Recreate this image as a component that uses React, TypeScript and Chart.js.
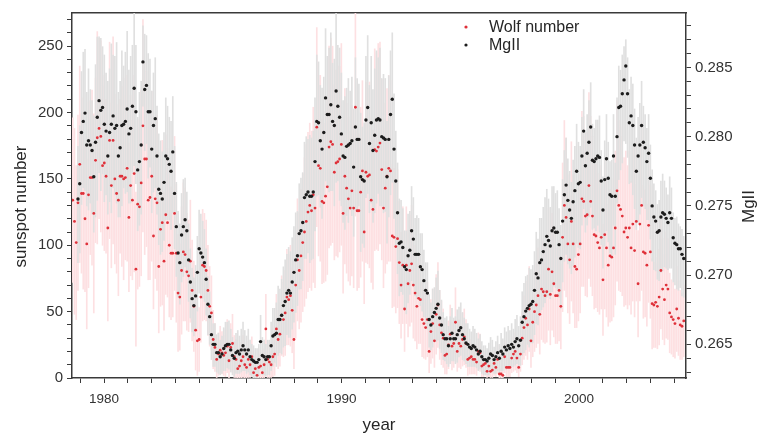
import React, { useEffect, useRef } from 'react';
import { Chart, registerables } from 'chart.js';

Chart.register(...registerables);

// sampling grid: one value per 27-day solar rotation
const START_YEAR = 1978.68;
const ROTATION_YEARS = 27 / 365.25;

const X_MIN = 1978.65;
const X_MAX = 2004.5;
const LEFT_MAX = 275;
const RIGHT_MIN = 0.26257;
const RIGHT_MAX = 0.28893;

const xLabelEvery = 10;
const leftLabelEvery = 50;
const rightLabelEveryMilli = 5;

const seriesLabels = ['Wolf number', 'MgII'];

// Wolf (sunspot) number per rotation, rows = years 1978 ... 2004
const wolf: number[] = [
  134, 118, 102, 132, 161,
  139, 139, 120, 101, 138, 151, 151, 124, 164, 181, 188, 182, 160,
  162, 152, 113, 179, 145, 179, 150, 139, 134, 152, 152, 150, 151, 158,
  121, 145, 134, 154, 82, 131, 129, 147, 190, 165, 165, 134, 136,
  152, 107, 135, 132, 84, 112, 117, 88, 123, 117, 100, 94, 94, 124,
  94, 64, 61, 81, 95, 93, 80, 77, 88, 66, 54, 36, 28,
  29, 61, 85, 84, 81, 66, 54, 49, 29, 23, 14, 18, 21, 19,
  17, 19, 24, 13, 23, 26, 16, 14, 7, 9, 13, 16, 10, 8,
  14, 10, 16, 4, 7, 2, 8, 9, 4, 10, 37, 14, 12,
  10, 16, 18, 37, 29, 33, 47, 44, 49, 61, 59, 62, 51, 29,
  70, 89, 81, 92, 102, 110, 118, 125, 130, 126, 138, 128, 189,
  160, 158, 133, 132, 137, 144, 174, 178, 176, 155, 162, 163, 165, 176,
  124, 152, 143, 135, 128, 141, 128, 204, 126, 126, 140, 156, 110,
  155, 152, 153, 134, 127, 172, 171, 174, 177, 157, 128, 143, 152, 158,
  156, 107, 106, 99, 105, 87, 70, 85, 52, 85, 71, 81, 86,
  70, 64, 54, 60, 59, 44, 41, 38, 44, 20, 35, 41, 28, 48,
  55, 40, 34, 30, 17, 18, 25, 33, 24, 26, 42, 20, 26,
  24, 29, 31, 26, 14, 15, 16, 14, 14, 12, 20, 19, 9, 10,
  11, 5, 9, 5, 6, 11, 8, 14, 3, 3, 2, 16, 8,
  8, 8, 15, 18, 20, 15, 8, 18, 30, 38, 45, 40, 52, 28,
  42, 50, 55, 62, 48, 67, 65, 62, 65, 82, 63, 80, 71,
  62, 62, 66, 54, 106, 130, 121, 101, 89, 118, 101, 84, 82, 93,
  101, 135, 133, 122, 123, 145, 133, 122, 108, 107, 102, 98, 106,
  74, 108, 98, 85, 92, 91, 98, 113, 141, 130, 127, 122, 110, 113,
  106, 113, 98, 116, 96, 118, 71, 116, 130, 95, 94, 85, 115, 95,
  56, 55, 57, 54, 61, 81, 67, 59, 70, 67, 49, 46, 44,
  41, 52, 45, 40, 39, 43,
];

// spread of the Wolf number within each rotation
const wolfErr: number[] = [
  62, 70, 58, 66, 74,
  60, 72, 55, 64, 70, 58, 66, 75, 62, 80, 68, 72, 60,
  66, 58, 70, 74, 62, 78, 64, 60, 72, 58, 68, 76, 62, 70,
  56, 68, 60, 74, 58, 64, 60, 70, 80, 72, 66, 60, 62,
  64, 55, 60, 66, 50, 58, 62, 52, 60, 56, 54, 50, 48, 58,
  52, 44, 40, 48, 52, 50, 44, 42, 46, 38, 34, 30, 26,
  24, 34, 42, 40, 38, 34, 30, 28, 22, 18, 14, 16, 18, 16,
  15, 18, 20, 14, 18, 22, 16, 15, 10, 12, 14, 16, 12, 10,
  14, 10, 15, 8, 10, 6, 10, 12, 8, 12, 26, 14, 12,
  10, 15, 16, 26, 22, 24, 30, 28, 32, 36, 34, 38, 32, 22,
  40, 46, 44, 50, 52, 56, 58, 60, 62, 60, 66, 60, 75,
  68, 70, 62, 60, 64, 66, 76, 78, 74, 66, 70, 72, 70, 76,
  60, 66, 64, 62, 58, 64, 60, 82, 60, 58, 64, 68, 54,
  68, 66, 70, 62, 60, 76, 74, 78, 76, 68, 60, 64, 66, 70,
  68, 54, 52, 50, 52, 46, 40, 44, 32, 44, 40, 42, 44,
  40, 36, 32, 34, 33, 28, 26, 24, 28, 16, 24, 26, 20, 30,
  32, 26, 24, 22, 14, 15, 18, 22, 18, 18, 26, 15, 18,
  17, 20, 21, 18, 12, 12, 13, 11, 11, 10, 14, 14, 8, 9,
  9, 5, 8, 5, 6, 9, 7, 11, 4, 4, 3, 12, 7,
  7, 7, 11, 13, 14, 11, 7, 13, 20, 24, 28, 26, 32, 20,
  26, 30, 32, 36, 30, 38, 38, 36, 38, 46, 38, 44, 40,
  36, 36, 38, 32, 56, 64, 60, 52, 48, 60, 52, 46, 44, 50,
  52, 66, 64, 60, 62, 70, 64, 60, 56, 54, 52, 50, 54,
  42, 56, 52, 46, 50, 48, 52, 58, 68, 64, 62, 60, 56, 58,
  54, 58, 50, 58, 50, 60, 40, 58, 64, 50, 48, 46, 58, 50,
  34, 32, 34, 32, 36, 44, 38, 34, 40, 38, 30, 28, 28,
  26, 32, 28, 26, 25, 27,
];

// MgII index per rotation, in units of 1/1000 (275.5 = 0.2755)
const mgiiMilli: (number | null)[] = [
  null, null, null, 275.5, 276.6,
  280.3, 281.1, 281.7, 279.4, 279.7, 279.4, 279.0, 277.1, 279.6, 281.4, 282.6, 281.9, 282.1,
  280.9, 280.4, 278.6, 280.3, 280.9, 281.5, 280.6, 280.8, 278.6, 279.2, 280.8, 280.9, 281.1, 282.0,
  280.2, 280.6, 282.2, 283.5, 281.8, 277.6, 278.2, 279.4, 285.4, 283.4, 283.7, 281.8, 281.8,
  279.1, 280.8, 281.3, 278.6, 276.2, 275.9, 275.5, 276.7, 278.6, 278.4, 278.0, 277.5, 278.9, 275.9,
  273.5, 271.6, 270.9, 272.9, 273.5, 274.0, 273.2, 271.1, 269.5, 268.3, 267.8, 268.5, 270.2,
  271.9, 271.6, 271.3, 270.9, 269.7, 267.9, 267.0, 265.7, 265.0, 265.0, 264.4, 264.4, 264.1, 264.3,
  264.7, 264.9, 265.0, 265.0, 264.6, 264.2, 264.0, 264.4, 264.5, 264.3, 264.6, 264.9, 264.6, 264.3,
  264.6, 264.1, 263.9, 263.8, 263.7, 263.7, 263.9, 265.2, 264.2, 264.1, 263.9, 264.1, 264.1,
  264.9, 265.6, 265.7, 265.8, 266.8, 266.8, 267.1, 267.8, 268.1, 268.7, 268.9, 268.7, 269.5, 270.2,
  271.1, 271.4, 273.0, 273.2, 273.8, 275.6, 275.8, 276.0, 275.7, 275.7, 276.0, 278.2, 281.1,
  281.0, 279.7, 279.1, 280.3, 282.8, 281.6, 281.6, 282.3, 281.1, 280.8, 283.3, 282.2, 281.4, 280.2,
  278.6, 278.5, 279.3, 279.4, 279.5, 279.7, 277.8, 280.7, 279.8, 279.8, 277.1, 276.9, 276.8,
  281.2, 282.1, 279.5, 281.0, 279.0, 280.1, 281.2, 281.3, 281.2, 280.0, 279.9, 279.8, 277.1, 279.8,
  281.6, 282.7, 279.1, 276.8, 274.5, 272.3, 272.4, 272.0, 270.6, 270.4, 271.4, 271.8, 273.2,
  272.6, 271.5, 271.5, 271.5, 270.6, 270.4, 269.6, 268.9, 268.7, 266.8, 266.4, 267.0, 267.3, 267.6,
  267.9, 266.9, 266.4, 265.7, 265.4, 265.4, 264.9, 265.4, 265.8, 265.4, 265.4, 265.7, 266.0,
  266.2, 265.7, 265.4, 265.1, 265.0, 264.8, 264.7, 264.9, 264.8, 264.6, 264.3, 264.5, 264.1, 263.9,
  263.9, 263.8, 264.0, 264.3, 264.2, 263.9, 264.1, 264.4, 264.0, 264.5, 264.3, 264.8, 264.6,
  264.9, 264.7, 265.0, 264.8, 265.2, 265.4, 264.9, 265.3, 266.6, 267.0, 267.4, 267.6, 267.8, 267.9,
  268.1, 268.9, 270.1, 269.8, 270.9, 271.1, 271.7, 272.2, 272.8, 272.5, 272.1, 273.2, 273.4,
  273.1, 273.1, 272.2, 271.2, 273.9, 275.8, 276.5, 275.4, 274.7, 274.1, 275.3, 276.1, 277.5, 276.6,
  276.7, 278.6, 280.4, 277.9, 278.8, 279.6, 280.7, 278.3, 278.2, 278.4, 278.6, 278.5, 276.8,
  274.7, 276.9, 278.4, 277.0, 275.8, 275.7, 278.6, 275.7, 280.0, 282.1, 282.2, 283.1, 284.1, 285.1,
  283.1, 281.0, 281.5, 280.8, 279.4, 277.5, 278.6, 279.4, 280.8, 279.6, 279.2, 278.2, 278.8, 277.0,
  275.0, 274.2, 273.9, 273.1, 273.2, 274.2, 274.5, 274.4, 274.1, 273.8, 274.5, 274.1, 272.7,
  272.3, 272.2, 271.9, 271.9, 271.5, 271.2,
];

// MgII spread below each rotation mean, in units of 1/1000
const mgiiErrDownMilli: (number | null)[] = [
  null, null, null, 4.6, 5.0,
  5.2, 4.8, 5.6, 4.4, 5.0, 4.2, 4.6, 4.0, 5.4, 6.0, 5.2, 5.8, 4.8,
  5.6, 4.6, 4.2, 5.0, 6.4, 5.2, 4.8, 5.6, 4.4, 5.0, 5.8, 4.6, 5.2, 6.0,
  5.0, 5.4, 4.8, 5.6, 5.2, 4.4, 4.6, 5.0, 3.2, 4.4, 4.2, 4.8, 4.0,
  4.6, 4.8, 5.0, 4.2, 4.0, 4.4, 3.8, 4.2, 4.6, 4.4, 4.0, 4.2, 4.4, 4.0,
  3.6, 3.2, 3.0, 3.4, 3.6, 3.4, 3.2, 3.0, 2.6, 2.4, 2.2, 2.4, 2.8,
  3.2, 3.0, 3.0, 2.8, 2.6, 2.2, 2.0, 1.8, 1.6, 1.6, 1.4, 1.5, 1.3, 1.4,
  1.6, 1.8, 1.7, 1.8, 1.6, 1.4, 1.3, 1.5, 1.6, 1.4, 1.6, 1.8, 1.5, 1.4,
  1.6, 1.3, 1.2, 1.2, 1.1, 1.1, 1.2, 2.0, 1.4, 1.3, 1.2, 1.3, 1.3,
  1.8, 2.2, 2.0, 2.4, 2.6, 2.4, 2.8, 3.0, 3.2, 3.0, 3.4, 3.2, 3.4, 3.6,
  3.8, 3.6, 4.0, 4.2, 4.2, 4.4, 4.6, 4.4, 4.8, 4.6, 4.8, 5.0, 5.4,
  5.2, 4.8, 5.0, 4.6, 6.0, 5.2, 5.6, 6.2, 5.0, 5.8, 6.6, 5.4, 6.0, 5.2,
  4.8, 5.2, 5.0, 5.6, 4.6, 5.4, 5.0, 6.0, 5.2, 4.8, 5.4, 4.6, 4.8,
  5.6, 6.2, 5.0, 5.8, 5.2, 5.6, 6.0, 5.4, 6.2, 5.0, 5.4, 5.2, 4.8, 5.6,
  5.8, 6.0, 5.0, 4.6, 4.4, 3.8, 3.6, 3.4, 3.0, 3.2, 3.4, 3.2, 3.6,
  3.4, 3.0, 3.2, 3.0, 2.8, 3.0, 2.6, 2.4, 2.6, 2.0, 1.8, 2.2, 2.0, 2.4,
  2.6, 2.2, 2.0, 1.8, 1.6, 1.8, 1.5, 1.8, 2.0, 1.6, 1.8, 2.0, 1.9,
  2.0, 1.8, 1.6, 1.5, 1.6, 1.4, 1.3, 1.5, 1.4, 1.3, 1.2, 1.3, 1.2, 1.1,
  1.1, 1.0, 1.2, 1.3, 1.2, 1.0, 1.2, 1.3, 1.1, 1.4, 1.2, 1.5, 1.4,
  1.5, 1.4, 1.6, 1.4, 1.7, 1.8, 1.5, 1.8, 2.4, 2.6, 2.8, 2.6, 3.0, 2.8,
  3.0, 3.2, 3.6, 3.4, 3.8, 3.6, 4.0, 4.2, 4.4, 4.0, 3.8, 4.4, 4.2,
  4.0, 4.2, 3.8, 3.6, 4.4, 4.8, 5.0, 4.6, 4.2, 4.0, 4.6, 4.8, 5.2, 4.6,
  4.8, 5.0, 5.6, 4.8, 5.2, 5.4, 5.8, 5.0, 4.8, 5.2, 5.0, 5.4, 4.6,
  4.2, 4.8, 5.2, 4.6, 4.2, 4.4, 5.0, 4.2, 4.8, 5.2, 4.6, 5.0, 4.4, 5.6,
  4.6, 4.4, 4.8, 5.0, 4.6, 4.2, 4.8, 5.0, 5.2, 4.6, 4.4, 4.2, 4.8, 4.4,
  4.0, 3.8, 3.6, 3.4, 3.6, 4.0, 4.2, 3.8, 3.6, 3.4, 4.0, 3.6, 3.2,
  3.0, 3.2, 3.0, 2.8, 3.0, 2.8,
];

// MgII spread above each rotation mean, in units of 1/1000
const mgiiErrUpMilli: (number | null)[] = [
  null, null, null, 3.8, 4.2,
  4.4, 5.0, 4.6, 3.8, 5.2, 4.0, 3.6, 4.4, 5.6, 5.8, 4.6, 5.2, 4.4,
  5.0, 4.2, 5.4, 4.6, 5.8, 4.4, 5.2, 6.0, 4.6, 4.8, 5.4, 4.2, 5.0, 5.6,
  4.6, 5.2, 4.4, 5.8, 4.8, 3.8, 5.0, 4.6, 2.6, 4.0, 3.6, 4.2, 3.8,
  4.2, 3.8, 4.4, 3.6, 4.0, 3.8, 3.4, 3.6, 4.2, 3.8, 3.4, 3.6, 4.0, 3.4,
  3.2, 3.0, 2.8, 3.0, 3.4, 3.0, 2.8, 2.6, 2.4, 2.2, 2.0, 2.2, 2.6,
  2.8, 2.8, 2.6, 2.4, 2.2, 2.0, 1.8, 1.6, 1.5, 1.5, 1.3, 1.4, 1.2, 1.3,
  1.5, 1.7, 1.6, 1.7, 1.5, 1.3, 1.2, 1.4, 1.5, 1.3, 1.5, 1.7, 1.4, 1.3,
  1.5, 1.2, 1.1, 1.1, 1.0, 1.0, 1.1, 1.9, 1.3, 1.2, 1.1, 1.2, 1.2,
  1.7, 2.0, 1.9, 2.2, 2.4, 2.2, 2.6, 2.8, 3.0, 2.8, 3.1, 3.0, 3.2, 3.3,
  3.4, 3.2, 3.6, 3.8, 3.6, 4.0, 4.2, 3.8, 4.4, 4.2, 4.4, 4.6, 4.8,
  4.4, 4.0, 4.4, 4.0, 5.0, 4.2, 4.8, 5.2, 4.2, 4.8, 5.6, 4.4, 5.0, 4.4,
  4.0, 4.4, 4.2, 4.8, 3.8, 4.6, 4.2, 5.0, 4.4, 4.0, 4.6, 3.8, 4.2,
  4.6, 5.2, 4.2, 4.8, 4.4, 4.8, 5.0, 4.4, 5.2, 4.2, 4.6, 4.4, 4.0, 4.6,
  4.6, 4.8, 4.0, 3.6, 3.6, 3.2, 3.0, 2.8, 2.6, 2.8, 3.0, 2.8, 3.2,
  3.0, 2.6, 2.8, 2.6, 2.4, 2.6, 2.2, 2.0, 2.2, 1.8, 1.6, 2.0, 1.8, 2.2,
  2.4, 2.0, 1.8, 1.6, 1.5, 1.6, 1.4, 1.6, 1.8, 1.5, 1.6, 1.8, 1.7,
  1.8, 1.6, 1.5, 1.4, 1.5, 1.3, 1.2, 1.4, 1.3, 1.2, 1.1, 1.2, 1.1, 1.0,
  1.0, 0.9, 1.1, 1.2, 1.1, 0.9, 1.1, 1.2, 1.0, 1.3, 1.1, 1.4, 1.3,
  1.4, 1.3, 1.5, 1.3, 1.6, 1.7, 1.4, 1.7, 2.2, 2.4, 2.5, 2.4, 2.7, 2.5,
  2.6, 2.8, 3.0, 2.8, 3.2, 3.0, 3.2, 3.4, 3.4, 3.0, 2.8, 3.2, 3.0,
  2.8, 3.0, 2.6, 2.4, 3.0, 3.2, 3.4, 3.0, 2.8, 2.6, 3.0, 3.2, 3.4, 3.0,
  2.6, 2.8, 3.0, 2.4, 2.8, 3.0, 3.2, 2.6, 2.4, 2.8, 2.6, 3.0, 2.2,
  2.4, 2.8, 3.2, 2.6, 2.4, 2.6, 3.0, 2.4, 2.8, 3.0, 2.6, 2.8, 2.4, 1.9,
  2.6, 2.4, 2.8, 3.0, 2.6, 2.4, 2.8, 3.0, 3.2, 2.6, 2.4, 2.4, 2.8, 2.4,
  2.6, 2.4, 2.2, 2.0, 2.2, 2.6, 2.8, 2.4, 2.2, 2.0, 2.6, 2.2, 1.8,
  1.8, 2.0, 1.8, 1.6, 1.8, 1.6,
];

const FONT = '"Liberation Sans", Arial, Helvetica, sans-serif';
const TEXT = '#333333';
const AXIS = '#3a3a3a';
const RED = '#df3039';
const BLACK = '#1c1c1c';
const PINK = '#fde0e2';
const GREY = '#e0e0e0';

const overlayPlugin = {
  id: 'overlayText',
  afterDraw(chart: any) {
    const { ctx, chartArea } = chart;
    const cy = (chartArea.top + chartArea.bottom) / 2 + 11;
    ctx.save();
    ctx.fillStyle = '#262626';
    ctx.font = `17px ${FONT}`;
    ctx.textAlign = 'center';
    ctx.textBaseline = 'middle';
    // left axis title
    ctx.save();
    ctx.translate(chartArea.left - 51, cy);
    ctx.rotate(-Math.PI / 2);
    ctx.fillText('sunspot number', 0, 0);
    ctx.restore();
    // right axis title
    ctx.save();
    ctx.translate(chartArea.right + 63, cy);
    ctx.rotate(-Math.PI / 2);
    ctx.fillText('MgII', 0, 0);
    ctx.restore();
    // legend
    const lx = chartArea.left + 394;
    const ly = chartArea.top + 14;
    ctx.font = `16px ${FONT}`;
    ctx.textAlign = 'left';
    const colors = [RED, BLACK];
    seriesLabels.forEach((label, k) => {
      const y = ly + k * 18;
      ctx.fillStyle = colors[k];
      ctx.beginPath();
      ctx.arc(lx, y, 1.6, 0, Math.PI * 2);
      ctx.fill();
      ctx.fillStyle = '#262626';
      ctx.fillText(label, lx + 23, y + 1);
    });
    ctx.restore();
  },
};

export default function App() {
  const canvasRef = useRef<HTMLCanvasElement | null>(null);

  useEffect(() => {
    document.body.style.margin = '0';
    const canvas = canvasRef.current;
    if (!canvas) return;

    const xs = wolf.map((_, i) => START_YEAR + i * ROTATION_YEARS);
    const wolfPts = wolf.map((v, i) => ({ x: xs[i], y: v }));
    const wolfBars = wolf.map((v, i) => ({ x: xs[i], y: [v - wolfErr[i], v + wolfErr[i]] }));
    const mgPts: { x: number; y: number }[] = [];
    const mgBars: { x: number; y: number[] }[] = [];
    mgiiMilli.forEach((v, i) => {
      if (v == null) return;
      const dn = mgiiErrDownMilli[i] ?? 0;
      const up = mgiiErrUpMilli[i] ?? 0;
      mgPts.push({ x: xs[i], y: v / 1000 });
      mgBars.push({ x: xs[i], y: [(v - dn) / 1000, (v + up) / 1000] });
    });

    const xTickFont = { family: FONT, size: 13.5 };
    const yTickFont = { family: FONT, size: 15 };

    const chart = new Chart(canvas, {
      type: 'scatter',
      data: {
        datasets: [
          {
            type: 'scatter',
            label: seriesLabels[1],
            data: mgPts,
            yAxisID: 'y2',
            xAxisID: 'x',
            pointRadius: 1.7,
            pointBorderWidth: 0,
            backgroundColor: BLACK,
            borderColor: BLACK,
            order: 1,
          },
          {
            type: 'scatter',
            label: seriesLabels[0],
            data: wolfPts,
            yAxisID: 'y',
            xAxisID: 'x',
            pointRadius: 1.4,
            pointBorderWidth: 0,
            backgroundColor: RED,
            borderColor: RED,
            order: 2,
          },
          {
            type: 'bar',
            label: 'MgII spread',
            data: mgBars as any,
            yAxisID: 'y2',
            xAxisID: 'x',
            backgroundColor: GREY,
            borderWidth: 0,
            barThickness: 1,
            grouped: false,
            order: 3,
          } as any,
          {
            type: 'bar',
            label: 'Wolf spread',
            data: wolfBars as any,
            yAxisID: 'y',
            xAxisID: 'x',
            backgroundColor: PINK,
            borderWidth: 0,
            barThickness: 1,
            grouped: false,
            order: 4,
          } as any,
        ],
      },
      options: {
        responsive: false,
        animation: false,
        devicePixelRatio: 1,
        events: [],
        layout: { padding: 0 },
        plugins: {
          legend: { display: false },
          tooltip: { enabled: false },
        },
        scales: {
          x: {
            type: 'linear',
            position: 'bottom',
            min: X_MIN,
            max: X_MAX,
            offset: false,
            grid: { display: true, offset: false, drawOnChartArea: false, drawTicks: true, tickLength: 5, color: AXIS, tickWidth: 1 },
            border: { display: true, color: AXIS, width: 1.5 },
            ticks: {
              stepSize: 1,
              includeBounds: false,
              autoSkip: false,
              maxRotation: 0,
              padding: 8,
              color: TEXT,
              font: xTickFont,
              callback: (v: any) => (Number(v) % xLabelEvery === 0 ? String(v) : ''),
            },
            title: { display: true, text: 'year', color: '#262626', font: { family: FONT, size: 17 }, padding: { top: 0, bottom: 0 } },
            afterFit: (s: any) => { s.height = 58; },
          },
          x2: {
            type: 'linear',
            position: 'top',
            min: X_MIN,
            max: X_MAX,
            offset: false,
            grid: { display: false, offset: false },
            border: { display: true, color: AXIS, width: 1.5 },
            ticks: { display: false },
            afterFit: (s: any) => { s.height = 8; },
          },
          y: {
            type: 'linear',
            position: 'left',
            min: 0,
            max: LEFT_MAX,
            grid: { display: true, drawOnChartArea: false, drawTicks: true, tickLength: 5, color: AXIS },
            border: { display: true, color: AXIS, width: 1.5 },
            ticks: {
              stepSize: 10,
              includeBounds: false,
              autoSkip: false,
              padding: 4,
              color: TEXT,
              font: yTickFont,
              callback: (v: any) => (Number(v) % leftLabelEvery === 0 ? String(v) : ''),
            },
            afterFit: (s: any) => { s.width = 72; },
          },
          y2: {
            type: 'linear',
            position: 'right',
            min: RIGHT_MIN,
            max: RIGHT_MAX,
            grid: { display: true, drawOnChartArea: false, drawTicks: true, tickLength: 5, color: AXIS },
            border: { display: true, color: AXIS, width: 1.5 },
            ticks: {
              stepSize: 0.001,
              includeBounds: false,
              autoSkip: false,
              padding: 4,
              color: TEXT,
              font: yTickFont,
              callback: (v: any) => {
                const m = Math.round(Number(v) * 1000);
                return m % rightLabelEveryMilli === 0 ? (m / 1000).toFixed(3) : '';
              },
            },
            afterFit: (s: any) => { s.width = 74; },
          },
        },
      } as any,
      plugins: [overlayPlugin],
    });

    return () => chart.destroy();
  }, []);

  return (
    <div style={{ width: 760, height: 436, background: '#fff' }}>
      <canvas ref={canvasRef} width={760} height={436} style={{ display: 'block' }} />
    </div>
  );
}
